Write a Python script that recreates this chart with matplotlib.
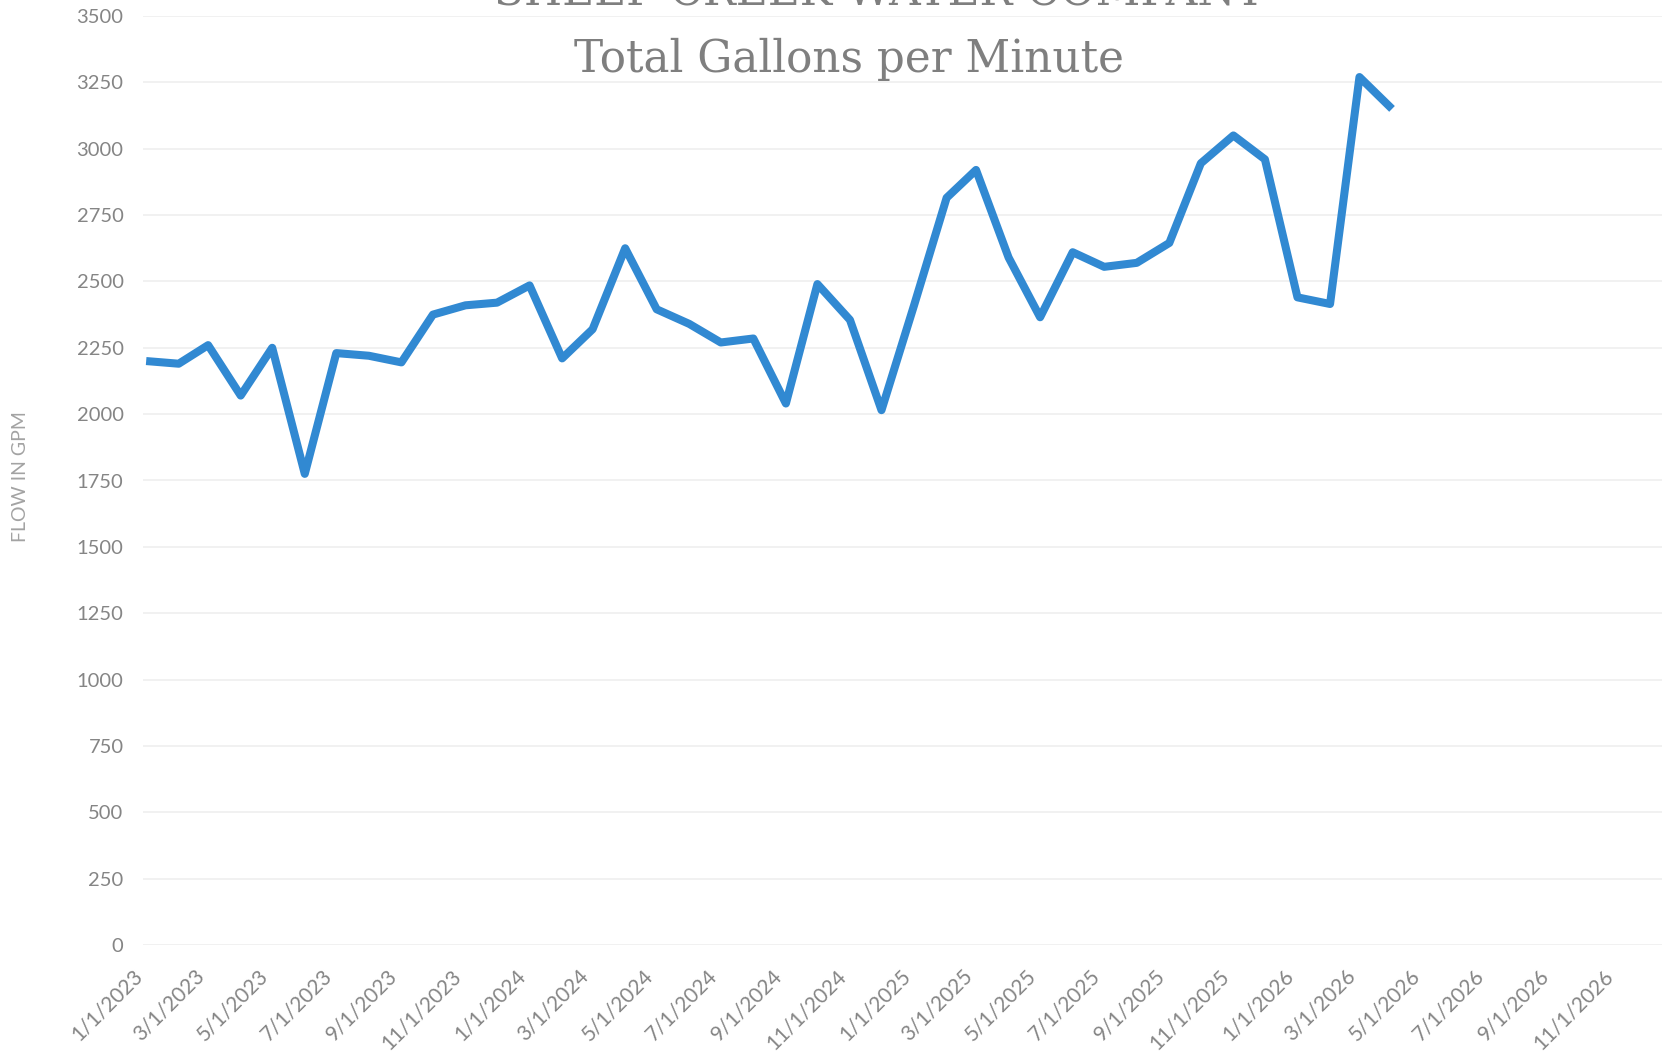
import matplotlib
matplotlib.use("Agg")
import matplotlib.pyplot as plt
import pandas as pd

# ---- data ----
month_labels = [
    "1/1/2023", "2/1/2023", "3/1/2023", "4/1/2023", "5/1/2023", "6/1/2023",
    "7/1/2023", "8/1/2023", "9/1/2023", "10/1/2023", "11/1/2023", "12/1/2023",
    "1/1/2024", "2/1/2024", "3/1/2024", "4/1/2024", "5/1/2024", "6/1/2024",
    "7/1/2024", "8/1/2024", "9/1/2024", "10/1/2024", "11/1/2024", "12/1/2024",
    "1/1/2025", "2/1/2025", "3/1/2025", "4/1/2025", "5/1/2025", "6/1/2025",
    "7/1/2025", "8/1/2025", "9/1/2025", "10/1/2025", "11/1/2025", "12/1/2025",
    "1/1/2026", "2/1/2026", "3/1/2026", "4/1/2026",
]
flow_gpm = [
    2200, 2190, 2260, 2070, 2250, 1775, 2230, 2220, 2195, 2375, 2410, 2420,
    2485, 2210, 2320, 2625, 2395, 2340, 2270, 2285, 2040, 2490, 2355, 2015,
    2410, 2815, 2920, 2590, 2365, 2610, 2555, 2570, 2645, 2945, 3050, 2960,
    2440, 2415, 3270, 3150,
]
tick_labels = [
    "1/1/2023", "3/1/2023", "5/1/2023", "7/1/2023", "9/1/2023", "11/1/2023",
    "1/1/2024", "3/1/2024", "5/1/2024", "7/1/2024", "9/1/2024", "11/1/2024",
    "1/1/2025", "3/1/2025", "5/1/2025", "7/1/2025", "9/1/2025", "11/1/2025",
    "1/1/2026", "3/1/2026", "5/1/2026", "7/1/2026", "9/1/2026", "11/1/2026",
]
y_ticks = [0, 250, 500, 750, 1000, 1250, 1500, 1750, 2000, 2250, 2500,
           2750, 3000, 3250, 3500]
title_top = "SHEEP CREEK WATER COMPANY"
title_main = "Total Gallons per Minute"
y_label = "FLOW IN GPM"

dates = pd.to_datetime(month_labels, format="%m/%d/%Y")
tick_dates = pd.to_datetime(tick_labels, format="%m/%d/%Y")

W, H = 1662, 1055
fig = plt.figure(figsize=(W / 100, H / 100), dpi=100)
fig.patch.set_facecolor("white")
ax = fig.add_axes([143 / W, (H - 945) / H, 1 - 143 / W, (945 - 16) / H])

ax.plot(dates, flow_gpm, color="#3189d2", lw=5.8,
        solid_joinstyle="round", solid_capstyle="butt", zorder=3)

ax.set_ylim(0, 3500)
ax.set_yticks(y_ticks)
ax.set_xlim(pd.Timestamp("2022-12-29"), pd.Timestamp("2026-12-14"))
ax.set_xticks(tick_dates)
ax.set_xticklabels(tick_labels, rotation=45, ha="right", va="top")

tick_color = "#858585"
ax.tick_params(axis="y", length=0, labelcolor=tick_color, labelsize=14.5, pad=14)
ax.tick_params(axis="x", length=0, labelcolor=tick_color, labelsize=15, pad=15)
for lab in ax.get_xticklabels() + ax.get_yticklabels():
    lab.set_family("Lato")

ax.grid(axis="y", color="#efefef", lw=1.2, zorder=0)
ax.grid(axis="x", visible=False)
for s in ax.spines.values():
    s.set_visible(False)

fig.text(21 / W, 1 - 477 / H, y_label, rotation=90, ha="center", va="center",
         fontsize=14, color="#a3a3a3", family="Lato")

fig.text(849 / W, 1 - 72 / H, title_main, ha="center", va="baseline",
         fontsize=31.5, color="#7f7f7f", family="DejaVu Serif")
fig.text(879 / W, 1 - 6 / H, title_top, ha="center", va="baseline",
         fontsize=31.5, color="#7f7f7f", family="DejaVu Serif")

fig.savefig("out.png", dpi=100, facecolor="white")
